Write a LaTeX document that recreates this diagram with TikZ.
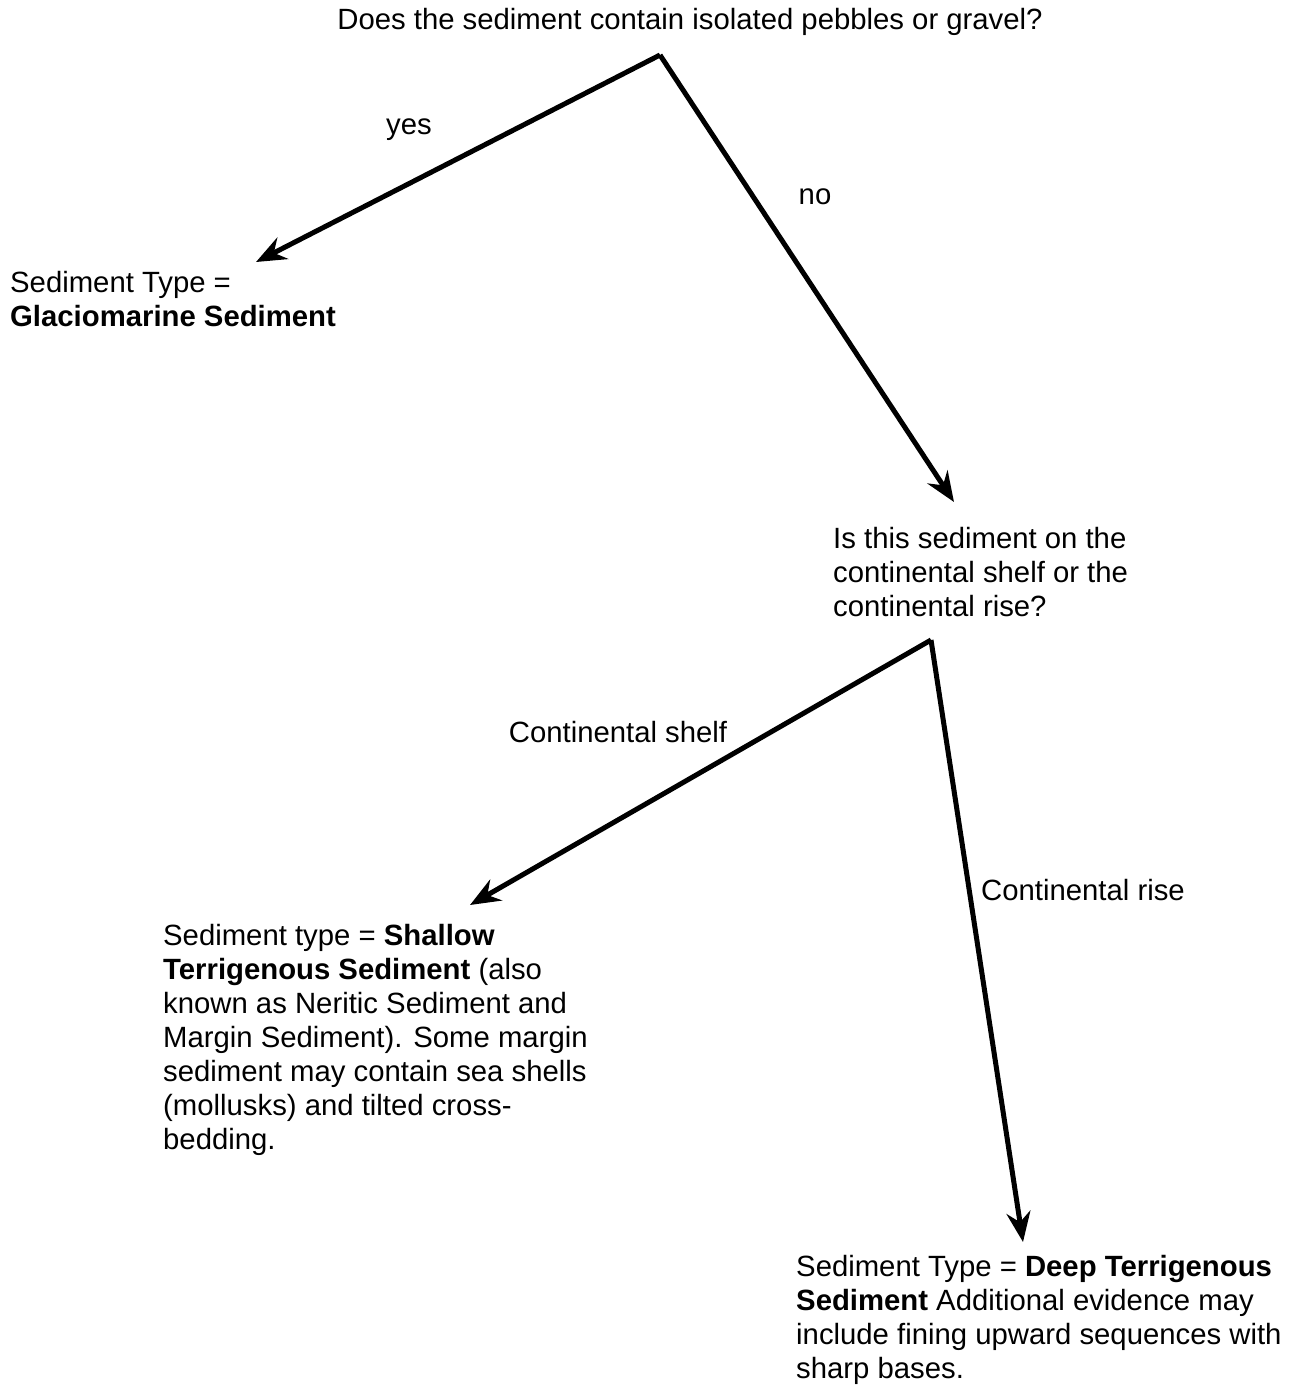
\documentclass[tikz,border=0pt]{standalone}
\usepackage{fontspec}
\setmainfont{Liberation Sans}
\usetikzlibrary{arrows.meta}
\tikzset{
  txt/.style={inner sep=0pt, align=left, anchor=north west, font=\fontsize{29.3}{34}\selectfont},
  lbl/.style={inner sep=0pt, anchor=center, font=\fontsize{29.3}{34}\selectfont},
  link/.style={line width=5pt, -{Stealth[length=30pt,width=24pt,inset=10pt]}}
}
\begin{document}
\begin{tikzpicture}[x=1pt,y=-1pt]
\useasboundingbox (0,0) rectangle (1292,1387);
\node[lbl] (q1) at (690,22) {Does the sediment contain isolated pebbles or gravel?};
\coordinate (b1) at (660,55);
\coordinate (t1) at (256,262);
\coordinate (t2) at (954,502);
\node[txt] (glac) at (10,271) {Sediment Type =\\\textbf{Glaciomarine Sediment}};
\node[txt] (q2) at (833,527) {Is this sediment on the\\continental shelf or the\\continental rise?};
\coordinate (b2) at (931,640);
\coordinate (t3) at (470,905);
\coordinate (t4) at (1023,1242);
\node[txt] (shal) at (163,924) {Sediment type = \textbf{Shallow}\\\textbf{Terrigenous Sediment} (also\\known as Neritic Sediment and\\Margin Sediment). Some margin\\sediment may contain sea shells\\(mollusks) and tilted cross-\\bedding.};
\node[txt] (deep) at (796,1255) {Sediment Type = \textbf{Deep Terrigenous}\\\textbf{Sediment} Additional evidence may\\include fining upward sequences with\\sharp bases.};
\draw[link] (b1) -- (t1);
\draw[link] (b1) -- (t2);
\draw[link] (b2) -- (t3);
\draw[link] (b2) -- (t4);
\node[lbl] (yes) at (409,130) {yes};
\node[lbl] (no) at (815,197) {no};
\node[lbl] (shelf) at (618,732) {Continental shelf};
\node[lbl] (rise) at (1083,890) {Continental rise};
\end{tikzpicture}
\end{document}
